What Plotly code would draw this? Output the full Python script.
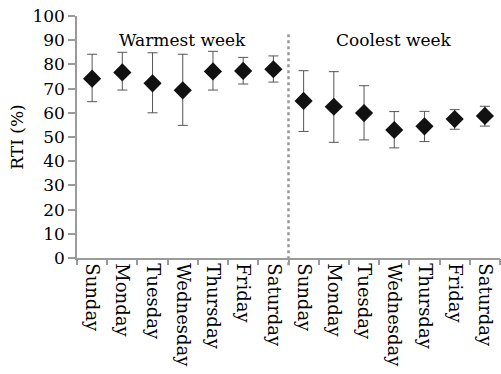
import plotly.graph_objects as go

days = ["Sunday", "Monday", "Tuesday", "Wednesday", "Thursday", "Friday", "Saturday"]
labels = days + days
warm_mean = [74.1, 76.7, 72.2, 69.3, 77.1, 77.3, 78.0]
warm_upper = [84.2, 85.0, 84.8, 84.2, 85.4, 82.9, 83.5]
warm_lower = [64.6, 69.4, 60.0, 54.8, 69.4, 71.9, 72.7]
cool_mean = [64.9, 62.5, 59.9, 52.9, 54.4, 57.4, 58.7]
cool_upper = [77.4, 77.0, 71.2, 60.5, 60.6, 61.3, 62.7]
cool_lower = [52.3, 47.8, 48.8, 45.5, 48.1, 53.2, 54.5]

means = warm_mean + cool_mean
upper = warm_upper + cool_upper
lower = warm_lower + cool_lower
xs = list(range(len(means)))

FONT = "DejaVu Serif"
AX = "#9a9a9a"

fig = go.Figure()
fig.add_trace(go.Scatter(
    x=xs, y=means, mode="markers",
    marker=dict(symbol="diamond", size=14, color="#111111"),
    error_y=dict(type="data", symmetric=False,
                 array=[u - m for u, m in zip(upper, means)],
                 arrayminus=[m - l for m, l in zip(means, lower)],
                 color="#555555", thickness=1, width=5),
    showlegend=False,
))
fig.add_trace(go.Scatter(x=[-0.5], y=[0], xaxis="x2", mode="markers",
                         marker=dict(opacity=0), showlegend=False, hoverinfo="skip"))

fig.update_layout(
    width=501, height=374,
    margin=dict(l=77, r=1, t=16, b=116),
    plot_bgcolor="white", paper_bgcolor="white",
    font=dict(family=FONT, size=17, color="black"),
    xaxis=dict(range=[-0.5, 13.5], tickmode="array", tickvals=xs, ticktext=labels,
               tickangle=90, ticks="", showline=True, linecolor=AX, linewidth=1.5,
               showgrid=False, zeroline=False, tickfont=dict(family=FONT, size=18, color="black")),
    xaxis2=dict(range=[-0.5, 13.5], overlaying="x", side="bottom", anchor="y",
                tickmode="array", tickvals=[i - 0.5 for i in range(15)],
                showticklabels=False, ticks="outside", ticklen=6, tickcolor=AX,
                tickwidth=1.5, showgrid=False, zeroline=False, showline=False),
    yaxis=dict(range=[0, 100], tickmode="linear", tick0=0, dtick=10,
               ticks="outside", ticklen=7, tickcolor=AX, tickwidth=1.5,
               showline=True, linecolor=AX, linewidth=1.5, showgrid=False,
               zeroline=False, tickfont=dict(family=FONT, size=17, color="black"),
               title=dict(text="RTI (%)", font=dict(family=FONT, size=17, color="black"), standoff=4)),
)

fig.add_shape(type="line", xref="x", yref="paper", x0=6.5, x1=6.5, y0=-0.03, y1=0.925,
              line=dict(color="#999999", width=2.5, dash="dot"))
fig.add_annotation(x=3, y=90, xref="x", yref="y", text="Warmest week", showarrow=False,
                   font=dict(family=FONT, size=17, color="black"))
fig.add_annotation(x=10, y=90, xref="x", yref="y", text="Coolest week", showarrow=False,
                   font=dict(family=FONT, size=17, color="black"))

fig.write_html("out.html")
